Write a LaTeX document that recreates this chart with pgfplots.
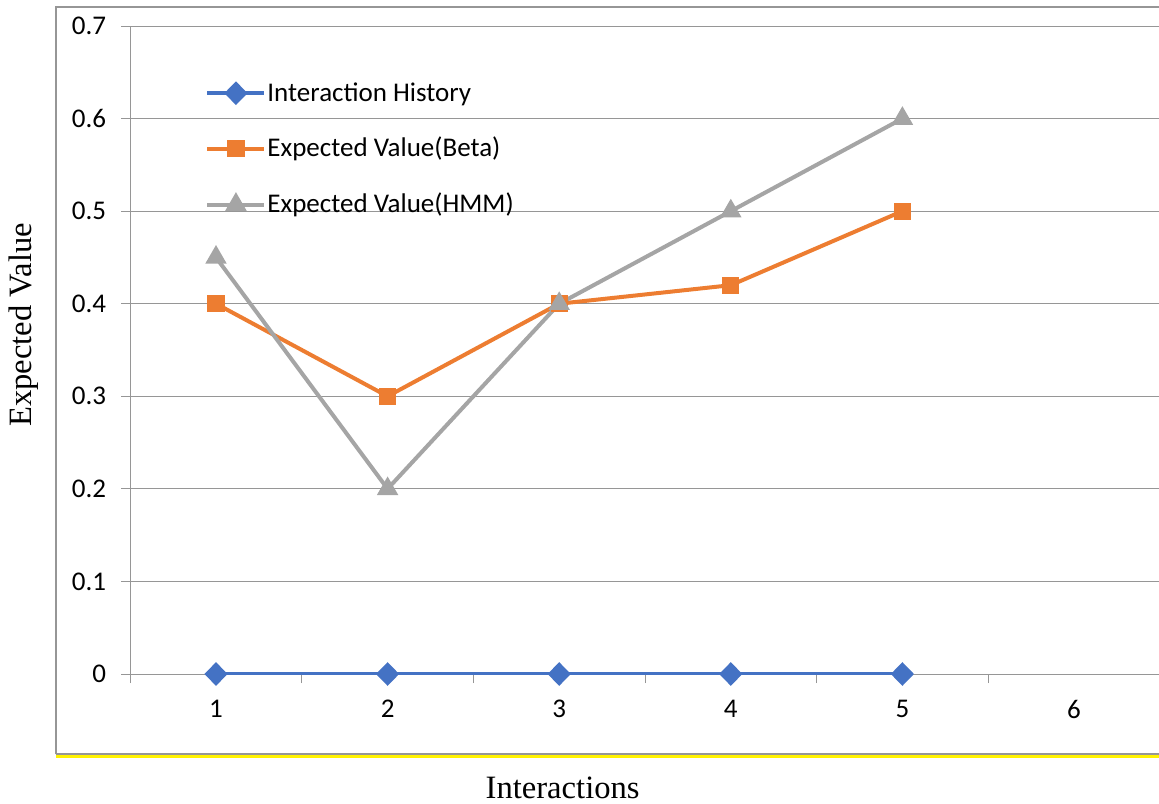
\documentclass[border=0pt]{standalone}
\usepackage{fontspec}
\setmainfont{Carlito}
\newfontfamily\timesf{Liberation Serif}
\usepackage{pgfplots}
\pgfplotsset{compat=1.18}

\definecolor{cblue}{RGB}{68,114,196}
\definecolor{corange}{RGB}{237,125,49}
\definecolor{cgray}{RGB}{165,165,165}
\definecolor{gridc}{RGB}{150,150,150}

\begin{document}
\begin{tikzpicture}
\path[use as bounding box] (0,0) rectangle (579.5pt,401.5pt);
% chart frame
\draw[gridc, line width=0.8pt] (28pt,24.5pt) -- (28pt,398pt) -- (590pt,398pt);
\draw[gridc, line width=0.8pt] (28pt,24.5pt) -- (590pt,24.5pt);
\draw[yellow, line width=1.2pt] (28pt,23.3pt) -- (590pt,23.3pt);

\begin{axis}[
at={(65.1pt,64.5pt)}, anchor=south west,
scale only axis,
width=514.8pt, height=324pt,
xmin=0.5, xmax=6.5,
ymin=0, ymax=0.7,
axis x line=bottom, axis y line=left,
axis line style={gridc, line width=0.5pt, -},
xtick={0.5,1.5,2.5,3.5,4.5,5.5,6.5},
x tick label as interval,
xticklabels={1,2,3,4,5,6},
xticklabel style={yshift=-5pt},
ytick={0,0.1,0.2,0.3,0.4,0.5,0.6,0.7},
yticklabels={0,0.1,0.2,0.3,0.4,0.5,0.6,0.7},
yticklabel style={xshift=-4pt},
tick style={gridc, line width=0.5pt},
tick align=outside,
major tick length=4.5pt,
ymajorgrids,
grid style={gridc, line width=0.5pt},
tick label style={font=\fontsize{13.5}{16}\selectfont},
/pgf/number format/assume math mode=true,
xlabel={Interactions},
ylabel={Expected Value},
xlabel style={font=\timesf\fontsize{16.3}{19}\selectfont, at={(axis description cs:0.420,-0.176)}, anchor=center},
ylabel style={font=\timesf\fontsize{16.3}{19}\selectfont, at={(axis description cs:-0.103,0.539)}, anchor=center},
legend style={at={(0.0727,0.926)}, anchor=north west, draw=none, fill=none,
  font=\fontsize{13.5}{16}\selectfont, inner xsep=0pt, row sep=12.6pt,
  nodes={inner xsep=0.5pt}},
legend cell align=left,
legend image code/.code={\draw[#1, mark repeat=2, mark phase=2] plot coordinates {(0pt,0pt) (14.25pt,0pt) (28.5pt,0pt)};},
]
\addplot[cblue, line width=2pt, mark=diamond*, mark size=4.5pt, mark options={solid, xscale=1.3}]
coordinates {(1,0) (2,0) (3,0) (4,0) (5,0)};
\addlegendentry{Interaction History}
\addplot[corange, line width=2pt, mark=square*, mark size=3.3pt, mark options={solid}]
coordinates {(1,0.4) (2,0.3) (3,0.4) (4,0.42) (5,0.5)};
\addlegendentry{Expected Value(Beta)}
\addplot[cgray, line width=2pt, mark=triangle*, mark size=4.2pt, mark options={solid}]
coordinates {(1,0.45) (2,0.2) (3,0.4) (4,0.5) (5,0.6)};
\addlegendentry{Expected Value(HMM)}
\end{axis}
\end{tikzpicture}
\end{document}
